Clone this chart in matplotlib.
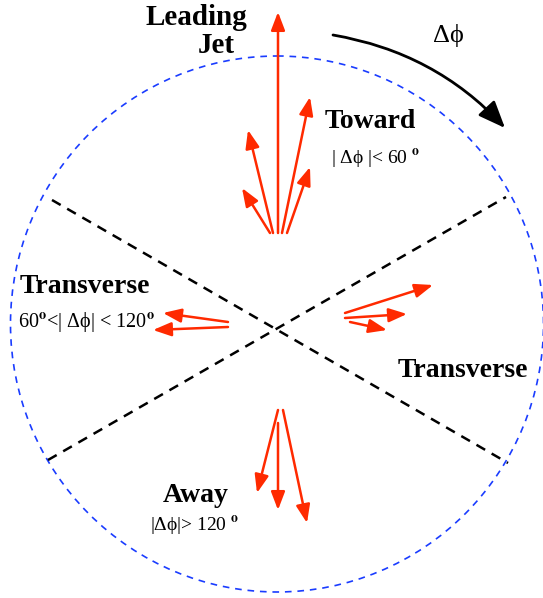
import matplotlib
matplotlib.use("Agg")
import matplotlib.pyplot as plt
from matplotlib.patches import Ellipse, FancyArrowPatch

plt.rcParams['font.family'] = ['Liberation Serif', 'DejaVu Serif']
plt.rcParams['mathtext.fontset'] = 'stix'

# particle arrows (pixel-like diagram coords): tail -> tip
toward_tail = [(278, 233), (282, 233), (273, 233), (287, 233), (270, 233)]
toward_tip = [(278, 12), (310, 97), (248, 130), (310, 167), (242, 188)]
left_tail = [(228, 322), (228, 327)]
left_tip = [(163, 313), (153, 330)]
right_tail = [(345, 313), (345, 318), (350, 322)]
right_tip = [(433, 285), (407, 314), (387, 330)]
away_tail = [(278, 410), (278, 423), (283, 410)]
away_tip = [(257, 493), (278, 510), (307, 523)]

# region boundaries (dashed lines) and the dashed circle
boundary_start = [(52, 200), (48, 460)]
boundary_end = [(508, 463), (506, 197)]
circle_center = (277, 324)
circle_size = (533, 536)

red = '#ff2a00'

fig = plt.figure(figsize=(5.43, 5.98), dpi=100)
ax = fig.add_axes([0, 0, 1, 1])
ax.set_xlim(0, 543)
ax.set_ylim(598, 0)
ax.axis('off')

ax.add_patch(Ellipse(circle_center, circle_size[0], circle_size[1], fill=False,
                     edgecolor='#1a3cff', linewidth=1.2, linestyle=(0, (4, 3.5))))

for (x0, y0), (x1, y1) in zip(boundary_start, boundary_end):
    ax.plot([x0, x1], [y0, y1], color='black', linewidth=1.8, linestyle=(0, (4, 3)))

for tails, tips in [(toward_tail, toward_tip), (left_tail, left_tip),
                    (right_tail, right_tip), (away_tail, away_tip)]:
    for a, b in zip(tails, tips):
        ax.add_patch(FancyArrowPatch(a, b, arrowstyle='-|>,head_length=1.1,head_width=0.42',
                                     mutation_scale=10, color=red, linewidth=1.8,
                                     shrinkA=0, shrinkB=0))

# curved delta phi arrow
ax.add_patch(FancyArrowPatch((333, 35), (505, 128), connectionstyle='arc3,rad=-0.17',
                             arrowstyle='-|>,head_length=1.1,head_width=0.45',
                             mutation_scale=15, color='black', linewidth=2.0,
                             shrinkA=0, shrinkB=0))

bold = dict(fontsize=20, fontweight='bold', va='baseline', ha='left')
norm = dict(fontsize=14, va='baseline', ha='left')

ax.text(145, 25, 'Leading', fontsize=21, fontweight='bold', va='baseline', ha='left')
ax.text(198, 53, 'Jet', fontsize=21, fontweight='bold', va='baseline', ha='left')
ax.text(433, 42, 'Δϕ', fontsize=19, va='baseline', ha='left')

ax.text(325, 128, 'Toward', **bold)
ax.text(331, 163, r'| Δϕ |< 60 $^{\mathbf{o}}$', **norm)

ax.text(20, 293, 'Transverse', **bold)
ax.text(18, 327, r'60$^{\mathbf{o}}$<| Δϕ| < 120$^{\mathbf{o}}$', fontsize=14.5,
        va='baseline', ha='left')

ax.text(398, 377, 'Transverse', **bold)

ax.text(163, 502, 'Away', **bold)
ax.text(150, 530, r'|Δϕ|> 120 $^{\mathbf{o}}$', **norm)

fig.savefig('out.png', dpi=100)
